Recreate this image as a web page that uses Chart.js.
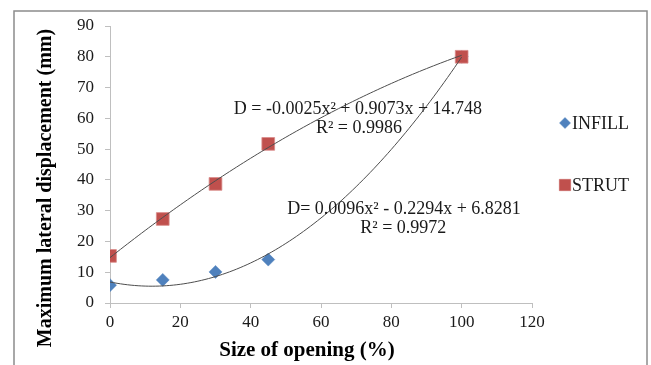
<!DOCTYPE html>
<html>
<head>
<meta charset="utf-8">
<script src="https://cdn.jsdelivr.net/npm/chart.js@4/dist/chart.umd.min.js"></script>
<style>
  html, body { margin: 0; padding: 0; background: #ffffff; }
  #wrap { width: 651px; height: 365px; }
</style>
</head>
<body>
<div id="wrap"><canvas id="chart" width="651" height="365"></canvas></div>
<script>
// Size of opening (%) for each model
const openingSize = [0, 15, 30, 45, 100];
// Maximum lateral displacement (mm)
const infillDisp = [5.8, 7.5, 10.1, 14.1, 80.0];
const strutDisp = [15.3, 27.3, 38.7, 51.7, 80.0];

// Polynomial trendline coefficients [a, b, c] for D = a·x² + b·x + c
const infillFit = [0.0096, -0.2294, 6.8281];
const strutFit = [-0.0025, 0.9073, 14.748];
const fitRange = [0, 100];

// Trendline equation labels
const infillFitText = ['D= 0.0096x\u00B2 - 0.2294x + 6.8281', 'R\u00B2 = 0.9972'];
const strutFitText = ['D = -0.0025x\u00B2 + 0.9073x + 14.748', 'R\u00B2 = 0.9986'];

const seriesNames = ['INFILL', 'STRUT'];
const xTitle = 'Size of opening (%)';
const yTitle = 'Maximum lateral displacement (mm)';

const SERIF = '"Liberation Serif", "Times New Roman", serif';
const BLUE = '#4F81BD';
const RED = '#C0504D';
const AXIS = '#BFBFBF';
const TREND = '#4d4d4d';

function toPoints(xs, ys) {
  return xs.map((x, i) => ({ x: x, y: ys[i] }));
}

// Evaluate a quadratic trendline across the fitted range
function trendPoints(coef) {
  const pts = [];
  for (let x = fitRange[0]; x <= fitRange[1]; x += 1) {
    pts.push({ x: x, y: coef[0] * x * x + coef[1] * x + coef[2] });
  }
  return pts;
}

// Outer frame around the chart
const framePlugin = {
  id: 'frame',
  beforeDraw(chart) {
    const ctx = chart.ctx;
    ctx.save();
    ctx.strokeStyle = '#8c8c8c';
    ctx.lineWidth = 1.5;
    ctx.strokeRect(14, 11, 633, 370);
    ctx.restore();
  }
};

// Axis titles, centred on the whole chart block rather than the plot area
const axisTitlePlugin = {
  id: 'axisTitles',
  afterDraw(chart) {
    const ctx = chart.ctx;
    ctx.save();
    ctx.fillStyle = '#000';
    ctx.textAlign = 'center';
    ctx.textBaseline = 'middle';
    ctx.font = 'bold 21px ' + SERIF;
    ctx.fillText(xTitle, 307, 351);
    ctx.font = 'bold 20px ' + SERIF;
    ctx.translate(46, 188);
    ctx.rotate(-Math.PI / 2);
    ctx.fillText(yTitle, 0, 0);
    ctx.restore();
  }
};

// Equation / R² labels placed in data coordinates
const equationPlugin = {
  id: 'equations',
  afterDatasetsDraw(chart) {
    const ctx = chart.ctx;
    const xs = chart.scales.x, ys = chart.scales.y;
    const blocks = [
      { text: strutFitText, at: [[70.5, 63.0], [70.8, 56.8]] },
      { text: infillFitText, at: [[83.6, 30.6], [83.4, 24.3]] }
    ];
    ctx.save();
    ctx.fillStyle = '#1a1a1a';
    ctx.font = '18px ' + SERIF;
    ctx.textAlign = 'center';
    ctx.textBaseline = 'middle';
    blocks.forEach(b => {
      b.text.forEach((t, i) => {
        ctx.fillText(t, xs.getPixelForValue(b.at[i][0]), ys.getPixelForValue(b.at[i][1]));
      });
    });
    ctx.restore();
  }
};

// Legend on the right with marker + series name
const sideLegendPlugin = {
  id: 'sideLegend',
  afterDraw(chart) {
    const ctx = chart.ctx;
    const items = [
      { name: seriesNames[0], style: 'rectRot', radius: 5.5, color: BLUE, y: 123 },
      { name: seriesNames[1], style: 'rect', radius: 8, color: RED, y: 185 }
    ];
    ctx.save();
    items.forEach(it => {
      ctx.fillStyle = it.color;
      ctx.strokeStyle = it.color;
      ctx.lineWidth = 0.5;
      Chart.helpers.drawPoint(ctx, { pointStyle: it.style, radius: it.radius, borderWidth: 0.5, rotation: 0 }, 565, it.y);
      ctx.fillStyle = '#1a1a1a';
      ctx.font = '18px ' + SERIF;
      ctx.textAlign = 'left';
      ctx.textBaseline = 'middle';
      ctx.fillText(it.name, 572, it.y + 1);
    });
    ctx.restore();
  }
};

const tickFont = { family: SERIF, size: 17 };

new Chart(document.getElementById('chart'), {
  type: 'scatter',
  data: {
    datasets: [
      {
        label: seriesNames[1] + ' trend',
        data: trendPoints(strutFit),
        showLine: true,
        borderColor: TREND,
        borderWidth: 1,
        pointRadius: 0,
        tension: 0,
        order: 0
      },
      {
        label: seriesNames[0] + ' trend',
        data: trendPoints(infillFit),
        showLine: true,
        borderColor: TREND,
        borderWidth: 1,
        pointRadius: 0,
        tension: 0,
        order: 0
      },
      {
        label: seriesNames[0],
        data: toPoints(openingSize, infillDisp),
        pointStyle: 'rectRot',
        pointRadius: 6.5,
        backgroundColor: BLUE,
        borderColor: BLUE,
        borderWidth: 0.5,
        order: 2
      },
      {
        label: seriesNames[1],
        data: toPoints(openingSize, strutDisp),
        pointStyle: 'rect',
        pointRadius: 9,
        backgroundColor: RED,
        borderColor: '#d98c8a',
        borderWidth: 0.8,
        order: 1
      }
    ]
  },
  options: {
    responsive: false,
    devicePixelRatio: 1,
    animation: false,
    layout: { padding: { left: 0, top: 26, right: 119, bottom: 0 } },
    plugins: {
      legend: { display: false },
      tooltip: { enabled: false }
    },
    scales: {
      x: {
        type: 'linear',
        min: 0,
        max: 120,
        ticks: { stepSize: 20, font: tickFont, color: '#1a1a1a', padding: 4, maxRotation: 0 },
        grid: { drawOnChartArea: false, drawTicks: true, tickLength: 5, color: AXIS, lineWidth: 1 },
        border: { color: AXIS, width: 1 },
        title: { display: false },
        afterFit(scale) { scale.height = 62; }
      },
      y: {
        type: 'linear',
        min: 0,
        max: 90,
        ticks: { stepSize: 10, font: tickFont, color: '#1a1a1a', padding: 11 },
        grid: { drawOnChartArea: false, drawTicks: true, tickLength: 5, color: AXIS, lineWidth: 1 },
        border: { color: AXIS, width: 1 },
        title: { display: false },
        afterFit(scale) { scale.width = 110; }
      }
    }
  },
  plugins: [framePlugin, equationPlugin, sideLegendPlugin, axisTitlePlugin]
});
</script>
</body>
</html>
